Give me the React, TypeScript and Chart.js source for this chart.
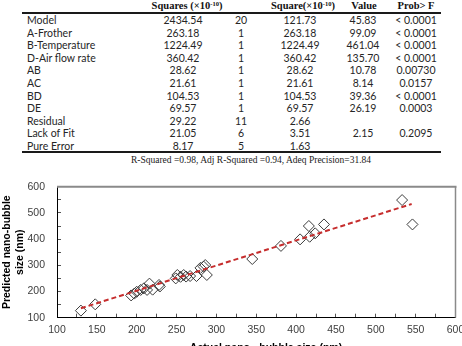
import React, { useEffect, useRef } from "react";
import { Chart, registerables } from "chart.js";

Chart.register(...registerables);

// ANOVA table rows
const sources = ["Model", "A-Frother", "B-Temperature", "D-Air flow rate", "AB", "AC", "BD", "DE", "Residual", "Lack of Fit", "Pure Error"];
const sumSquares = ["2434.54", "263.18", "1224.49", "360.42", "28.62", "21.61", "104.53", "69.57", "29.22", "21.05", "8.17"];
const degrees = ["20", "1", "1", "1", "1", "1", "1", "1", "11", "6", "5"];
const meanSquares = ["121.73", "263.18", "1224.49", "360.42", "28.62", "21.61", "104.53", "69.57", "2.66", "3.51", "1.63"];
const fValues = ["45.83", "99.09", "461.04", "135.70", "10.78", "8.14", "39.36", "26.19", "", "2.15", ""];
const pValues = ["< 0.0001", "< 0.0001", "< 0.0001", "< 0.0001", "0.00730", "0.0157", "< 0.0001", "0.0003", "", "0.2095", ""];
const fitSummary = "R-Squared =0.98, Adj R-Squared =0.94, Adeq Precision=31.84";

// Actual vs predicted nano-bubble size (nm)
const actualSize = [130, 148, 193, 197, 200, 205, 209, 213, 216, 220, 228, 229, 249, 251, 255, 259, 262, 267, 275, 280, 284, 286, 288, 345, 381, 405, 416, 417, 424, 435, 533, 546];
const predictedSize = [127, 151, 185, 192, 199, 206, 212, 206, 230, 207, 225, 219, 250, 263, 256, 263, 257, 259, 259, 290, 295, 301, 263, 324, 374, 399, 450, 409, 422, 456, 549, 456];

// Linear trend line end points
const trendActual = [130, 545];
const trendPredicted = [136, 534];

// Axis settings
const axisMin = 100;
const axisMax = 600;
const xMinorStep = 25;
const xLabelStep = 50;
const yMinorStep = 50;
const yLabelStep = 100;
const xAxisTitle = "Actual nano - bubble size (nm)";
const yAxisTitle = ["Predicted nano-bubble", "size (nm)"];

const tableFont = "Lato, 'Open Sans', sans-serif";
const serifFont = "'Liberation Serif', 'DejaVu Serif', serif";
const chartFont = "'Liberation Sans', Arial, sans-serif";

const rowTop = 20;
const rowStep = 12.6;
const colCenters = [183, 241, 300, 363, 416];

const framePlugin = {
  id: "frame",
  beforeDatasetsDraw(chart: any) {
    const { ctx, chartArea } = chart;
    const { left, right, top, bottom } = chartArea;
    ctx.save();
    ctx.strokeStyle = "#8a8a8a";
    ctx.lineWidth = 2;
    ctx.beginPath();
    ctx.moveTo(left, top);
    ctx.lineTo(right + 1, top);
    ctx.stroke();
    ctx.lineWidth = 1.5;
    ctx.beginPath();
    ctx.moveTo(right, top);
    ctx.lineTo(right, bottom);
    ctx.stroke();
    ctx.restore();
  },
};

function ScatterChart() {
  const canvasRef = useRef<HTMLCanvasElement | null>(null);

  useEffect(() => {
    const canvas = canvasRef.current;
    if (!canvas) return;
    const points = actualSize.map((x, i) => ({ x, y: predictedSize[i] }));
    const trend = trendActual.map((x, i) => ({ x, y: trendPredicted[i] }));

    const chart = new Chart(canvas, {
      type: "scatter",
      data: {
        datasets: [
          {
            type: "line",
            data: trend,
            borderColor: "#c62d2d",
            borderWidth: 2,
            borderDash: [5, 3],
            pointRadius: 0,
            fill: false,
          },
          {
            type: "scatter",
            data: points,
            pointStyle: "rectRot",
            pointRadius: 5.5,
            pointBorderWidth: 1,
            borderColor: "#3a3a3a",
            backgroundColor: "rgba(255,255,255,0)",
          },
        ],
      },
      options: {
        animation: false,
        responsive: false,
        layout: { padding: { top: 10.7, right: 3, left: 0, bottom: 0 } },
        plugins: { legend: { display: false }, tooltip: { enabled: false } },
        scales: {
          x: {
            type: "linear",
            position: "bottom",
            min: axisMin,
            max: axisMax,
            ticks: {
              stepSize: xMinorStep,
              autoSkip: false,
              maxRotation: 0,
              padding: 10.5,
              color: "#404040",
              font: { family: chartFont, size: 10.5 },
              callback: (v: any) => (Number(v) % xLabelStep === 0 ? String(v) : ""),
            },
            grid: { drawOnChartArea: false, drawTicks: true, tickLength: -4, color: "#555" },
            border: { color: "#000", width: 1 },
            afterFit: (s: any) => {
              s.height = 38.3;
              s.paddingLeft = 0;
              s.paddingRight = 0;
            },
          },
          y: {
            type: "linear",
            min: axisMin,
            max: axisMax,
            ticks: {
              stepSize: yMinorStep,
              autoSkip: false,
              padding: 16,
              color: "#404040",
              font: { family: chartFont, size: 10.5 },
              callback: (v: any) => (Number(v) % yLabelStep === 0 ? String(v) : ""),
            },
            grid: { drawOnChartArea: false, drawTicks: true, tickLength: -4, color: "#555" },
            border: { color: "#000", width: 1 },
            title: {
              display: true,
              text: yAxisTitle,
              color: "#000",
              font: { family: chartFont, size: 10.5, weight: "bold" },
              padding: { top: 1, bottom: 0 },
            },
            afterFit: (s: any) => {
              s.width = 57;
              s.paddingTop = 0;
              s.paddingBottom = 0;
            },
          },
        },
      },
      plugins: [framePlugin],
    } as any);

    return () => chart.destroy();
  }, []);

  return (
    <>
      <div style={{ position: "absolute", left: 0, top: 176, width: 462, height: 180 }}>
        <canvas ref={canvasRef} width={462} height={180} style={{ width: 462, height: 180, display: "block" }} />
      </div>
      <div style={{ fontFamily: chartFont, fontSize: 10.5, fontWeight: "bold", color: "#000" }}>
        <Cell x={266} y={346.5} align="center" text={xAxisTitle} />
      </div>
    </>
  );
}

function Cell({ x, y, text, align }: { x: number; y: number; text: React.ReactNode; align: "left" | "center" }) {
  return (
    <div
      style={{
        position: "absolute",
        left: x,
        top: y,
        transform: align === "center" ? "translate(-50%, -50%)" : "translate(0, -50%)",
        whiteSpace: "nowrap",
        lineHeight: "12px",
      }}
    >
      {text}
    </div>
  );
}

function AnovaTable() {
  const headStyle: React.CSSProperties = { fontFamily: serifFont, fontWeight: "bold", fontSize: 10.5, color: "#111" };
  const sup = (s: string) => <sup style={{ fontSize: 6.5, verticalAlign: "3px", lineHeight: 0 }}>{s}</sup>;
  return (
    <>
      <div style={headStyle}>
        <Cell x={187} y={5.5} align="center" text={<>Squares (×10{sup("-10")})</>} />
        <Cell x={303} y={5.5} align="center" text={<>Square(×10{sup("-10")})</>} />
        <Cell x={364} y={5.5} align="center" text="Value" />
        <Cell x={416} y={5.5} align="center" text={"Prob> F"} />
      </div>
      <div style={{ position: "absolute", left: 22, top: 12, width: 419, height: 2, background: "#1a1a1a" }} />
      <div style={{ fontFamily: tableFont, fontSize: 10.5, color: "#262626" }}>
        {sources.map((s, i) => {
          const y = rowTop + i * rowStep;
          const cols = [sumSquares[i], degrees[i], meanSquares[i], fValues[i], pValues[i]];
          return (
            <React.Fragment key={s}>
              <Cell x={27} y={y} align="left" text={s} />
              {cols.map((c, j) => (c ? <Cell key={j} x={colCenters[j]} y={y} align="center" text={c} /> : null))}
            </React.Fragment>
          );
        })}
      </div>
      <div style={{ position: "absolute", left: 22, top: 151, width: 419, height: 2, background: "#1a1a1a" }} />
      <div style={{ fontFamily: serifFont, fontSize: 9.5, color: "#222" }}>
        <Cell x={251} y={160} align="center" text={fitSummary} />
      </div>
    </>
  );
}

export default function App() {
  return (
    <div
      style={{
        position: "fixed",
        left: 0,
        top: 0,
        width: 462,
        height: 346,
        overflow: "hidden",
        background: "#fff",
      }}
    >
      <AnovaTable />
      <ScatterChart />
    </div>
  );
}
